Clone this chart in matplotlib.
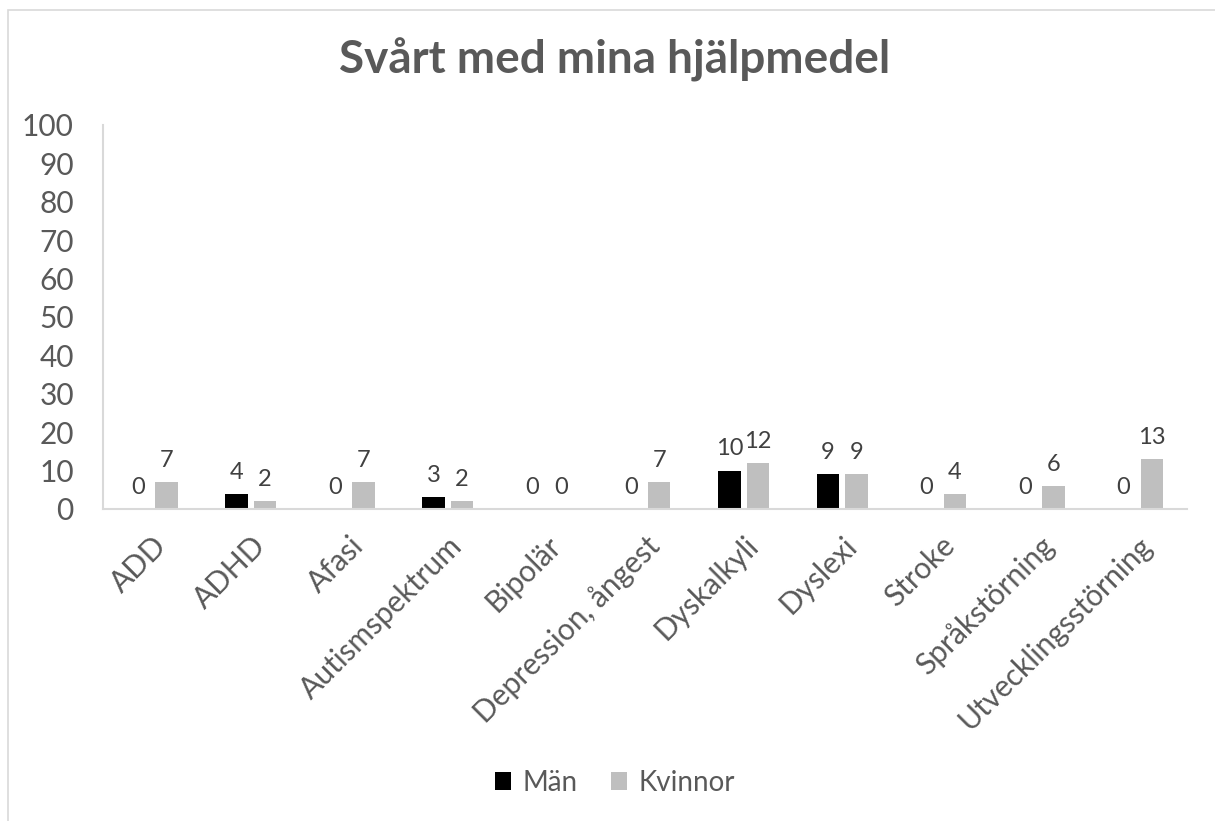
import numpy as np
import matplotlib.pyplot as plt
from matplotlib.patches import Rectangle

plt.rcParams["font.family"] = ["Lato", "DejaVu Sans"]

categories = ["ADD", "ADHD", "Afasi", "Autismspektrum", "Bipolär",
              "Depression, ångest", "Dyskalkyli", "Dyslexi", "Stroke",
              "Språkstörning", "Utvecklingsstörning"]
man = [0, 4, 0, 3, 0, 0, 10, 9, 0, 0, 0]
kvinnor = [7, 2, 7, 2, 0, 7, 12, 9, 4, 6, 13]

text_grey = "#595959"
label_grey = "#404040"
axis_grey = "#d9d9d9"

fig = plt.figure(figsize=(12.15, 8.21), dpi=100)
# chart frame
fig.patches.append(Rectangle((8 / 1215, -0.1), 1.2, 1 - 10 / 821 + 0.1,
                             transform=fig.transFigure, fill=False,
                             edgecolor=axis_grey, linewidth=1.2))

ax = fig.add_axes([103 / 1215, 1 - 509 / 821, (1187 - 103) / 1215, (509 - 125) / 821])

x = np.arange(len(categories))
w = 0.228
off = 0.144
b1 = ax.bar(x - off, man, w, color="black", label="Män")
b2 = ax.bar(x + off, kvinnor, w, color="#bfbfbf", label="Kvinnor")

for bars, vals in ((b1, man), (b2, kvinnor)):
    for r, v in zip(bars, vals):
        ax.annotate(str(v), (r.get_x() + r.get_width() / 2, v),
                    xytext=(0, 8), textcoords="offset points",
                    ha="center", va="bottom", fontsize=17, color=label_grey)

ax.set_xlim(-0.5, len(categories) - 0.5)
ax.set_ylim(0, 100)
ax.set_yticks(range(0, 101, 10))
ax.set_xticks(x)
ax.set_xticklabels(categories, rotation=45, ha="right", rotation_mode="anchor")
ax.tick_params(axis="both", length=0, labelsize=21.5, colors=text_grey)
ax.tick_params(axis="x", pad=16)
ax.tick_params(axis="y", pad=21)

for s in ("top", "right"):
    ax.spines[s].set_visible(False)
ax.spines["left"].set_color(axis_grey)
ax.spines["bottom"].set_color(axis_grey)
ax.spines["left"].set_linewidth(1.5)
ax.spines["bottom"].set_linewidth(1.5)

fig.text(0.506, 1 - 60 / 821, "Svårt med mina hjälpmedel", ha="center", va="center",
         fontsize=33, fontweight="bold", color=text_grey)

fig.legend(handles=[b1, b2], loc="center", bbox_to_anchor=(0.506, 1 - 783 / 821),
           ncol=2, frameon=False, fontsize=20, labelcolor=text_grey,
           handlelength=0.6, handleheight=0.6, handletextpad=0.4, columnspacing=1.2)

fig.savefig("out.png", dpi=100)
